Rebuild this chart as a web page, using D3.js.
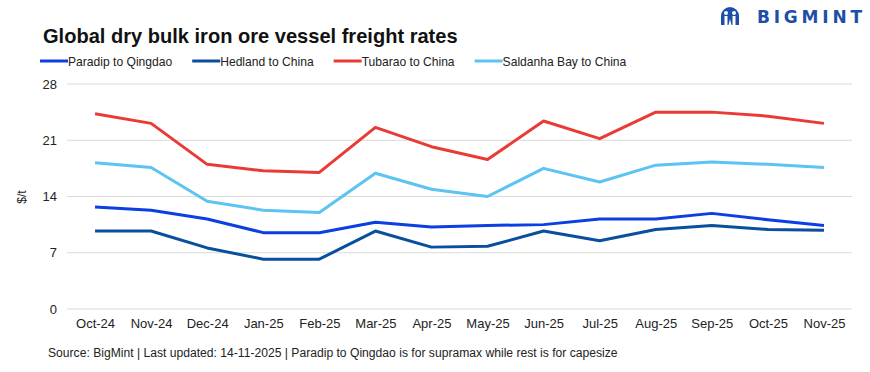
<!DOCTYPE html>
<html>
<head>
<meta charset="utf-8">
<script src="https://cdn.jsdelivr.net/npm/d3@7"></script>
<style>
  body { margin: 0; background: #fff; }
  svg { display: block; font-family: "Liberation Sans Narrow", "Liberation Sans", "Arial Narrow", sans-serif; }
</style>
</head>
<body>
<svg id="chart" width="870" height="372"></svg>
<script>
// data
const months = ["Oct-24", "Nov-24", "Dec-24", "Jan-25", "Feb-25", "Mar-25", "Apr-25",
  "May-25", "Jun-25", "Jul-25", "Aug-25", "Sep-25", "Oct-25", "Nov-25"];
const paradip  = [12.7, 12.3, 11.2, 9.5, 9.5, 10.8, 10.2, 10.4, 10.5, 11.2, 11.2, 11.9, 11.1, 10.4];
const hedland  = [9.7, 9.7, 7.6, 6.2, 6.2, 9.7, 7.7, 7.8, 9.7, 8.5, 9.9, 10.4, 9.9, 9.8];
const tubarao  = [24.3, 23.1, 18.0, 17.2, 17.0, 22.6, 20.2, 18.6, 23.4, 21.2, 24.5, 24.5, 24.0, 23.1];
const saldanha = [18.2, 17.6, 13.4, 12.3, 12.0, 16.9, 14.9, 14.0, 17.5, 15.8, 17.9, 18.3, 18.0, 17.6];
const yTicks = [0, 7, 14, 21, 28];

const series = [
  { name: "Paradip to Qingdao", values: paradip, color: "#0b3ee3" },
  { name: "Hedland to China", values: hedland, color: "#0a4e9e" },
  { name: "Tubarao to China", values: tubarao, color: "#ea3a36" },
  { name: "Saldanha Bay to China", values: saldanha, color: "#5cc3f2" }
];

const svg = d3.select("#chart");
const margin = { top: 84, right: 18, bottom: 63, left: 67 };
const width = +svg.attr("width") - margin.left - margin.right;
const height = +svg.attr("height") - margin.top - margin.bottom;

// text is condensed a bit since the narrow font of the original isn't around
function condense(sel, factor) {
  sel.each(function () {
    const len = this.getComputedTextLength();
    d3.select(this).attr("textLength", len * factor).attr("lengthAdjust", "spacingAndGlyphs");
  });
}

const x = d3.scalePoint().domain(months).range([0, width]).padding(0.5);
const y = d3.scaleLinear().domain([0, 28]).range([height, 0]);

const g = svg.append("g")
  .attr("transform", "translate(" + margin.left + "," + margin.top + ")");

// gridlines
g.append("g")
  .selectAll("line")
  .data(yTicks)
  .enter()
  .append("line")
  .attr("x1", 0)
  .attr("x2", width)
  .attr("y1", d => y(d))
  .attr("y2", d => y(d))
  .attr("stroke", "#d9d9d9")
  .attr("stroke-width", 1);

// y axis
const yAxis = d3.axisLeft(y).tickValues(yTicks).tickSize(0).tickPadding(10);
g.append("g")
  .call(yAxis)
  .call(s => s.select(".domain").remove())
  .selectAll("text")
  .attr("font-size", 13)
  .attr("fill", "#222");

// x axis
const xAxis = d3.axisBottom(x).tickSize(0).tickPadding(10);
g.append("g")
  .attr("transform", "translate(0," + height + ")")
  .call(xAxis)
  .call(s => s.select(".domain").remove())
  .selectAll("text")
  .attr("font-size", 13)
  .attr("fill", "#222");

// lines
const line = d3.line()
  .x((d, i) => x(months[i]))
  .y(d => y(d));

g.selectAll(".series")
  .data(series)
  .enter()
  .append("path")
  .attr("class", "series")
  .attr("fill", "none")
  .attr("stroke", d => d.color)
  .attr("stroke-width", 3)
  .attr("stroke-linejoin", "round")
  .attr("d", d => line(d.values));

// axis title
svg.append("text")
  .attr("transform", "translate(26,197) rotate(-90)")
  .attr("text-anchor", "middle")
  .attr("font-size", 12)
  .attr("fill", "#222")
  .text("$/t");

// title
svg.append("text")
  .attr("x", 43)
  .attr("y", 43)
  .attr("font-size", 21)
  .attr("font-weight", "bold")
  .attr("fill", "#111")
  .text("Global dry bulk iron ore vessel freight rates")
  .call(condense, 0.955);

// legend
const legend = svg.append("g").attr("transform", "translate(40,61)");
let lx = 0;
series.forEach(function (s) {
  const item = legend.append("g").attr("transform", "translate(" + lx + ",0)");
  item.append("line")
    .attr("x1", 0).attr("x2", 28)
    .attr("y1", 0).attr("y2", 0)
    .attr("stroke", s.color)
    .attr("stroke-width", 3);
  const t = item.append("text")
    .attr("x", 28)
    .attr("y", 4.5)
    .attr("font-size", 13)
    .attr("fill", "#222")
    .text(s.name);
  const len = t.node().getComputedTextLength() * 0.93;
  t.attr("textLength", len).attr("lengthAdjust", "spacingAndGlyphs");
  lx += 28 + len + 20;
});

// footer
svg.append("text")
  .attr("x", 48)
  .attr("y", 357)
  .attr("font-size", 12.5)
  .attr("fill", "#222")
  .text("Source: BigMint | Last updated: 14-11-2025 | Paradip to Qingdao is for supramax while rest is for capesize")
  .call(condense, 0.97);

// logo
const logo = svg.append("g").attr("transform", "translate(721,6)");
logo.append("path")
  .attr("d", "M0,10 A9,9 0 0 1 18,10 L18,19 L0,19 Z")
  .attr("fill", "#1d4fa8");
logo.append("circle").attr("cx", 5).attr("cy", 7).attr("r", 2).attr("fill", "#fff");
logo.append("circle").attr("cx", 13).attr("cy", 7).attr("r", 2).attr("fill", "#fff");
logo.append("rect").attr("x", 3.5).attr("y", 10).attr("width", 3).attr("height", 9).attr("fill", "#fff");
logo.append("rect").attr("x", 11.5).attr("y", 10).attr("width", 3).attr("height", 9).attr("fill", "#fff");
logo.append("path").attr("d", "M7.5,19 L9,13 L10.5,19 Z").attr("fill", "#fff");
svg.append("text")
  .attr("x", 757)
  .attr("y", 23)
  .attr("font-family", "'DejaVu Sans', sans-serif")
  .attr("font-size", 17)
  .attr("font-weight", "bold")
  .attr("textLength", 105)
  .attr("lengthAdjust", "spacing")
  .attr("fill", "#1d4fa8")
  .text("BIGMINT");
</script>
</body>
</html>
